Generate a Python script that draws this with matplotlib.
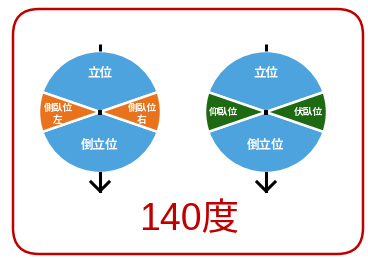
import matplotlib
matplotlib.use("Agg")
import matplotlib.pyplot as plt
from matplotlib.patches import Wedge, FancyBboxPatch, Rectangle

plt.rcParams["font.family"] = ["Noto Sans CJK JP", "DejaVu Sans"]

W, H = 368, 258

# ── data ──────────────────────────────────────────────────────────────────────
CENTERS_X = [100, 266]
CENTER_Y = 112
RADIUS = 61
SIDE_SPAN = 38                 # degrees of each side wedge
SIDE_COLORS = ["#e8731c", "#1e6a12"]
BLUE = "#4da3de"
TOP_LABEL = "立位"
BOTTOM_LABEL = "倒立位"
SIDE_LABELS = [("側臥位\n左", "側臥位\n右"), ("仰臥位", "伏臥位")]
TITLE = "140度"

fig = plt.figure(figsize=(W / 100, H / 100), dpi=100)
ax = fig.add_axes([0, 0, 1, 1])
ax.set_xlim(0, W)
ax.set_ylim(H, 0)
ax.axis("off")

box = FancyBboxPatch((13, 9), 350, 245, boxstyle="round,pad=0,rounding_size=26",
                     fc="white", ec="#c00000", lw=1.8)
ax.add_patch(box)

half = SIDE_SPAN / 2
for cx, scol, (ltxt, rtxt) in zip(CENTERS_X, SIDE_COLORS, SIDE_LABELS):
    # y axis is inverted, so angle 270 points up on screen
    ax.add_patch(Wedge((cx, CENTER_Y), RADIUS, 180 + half, 360 - half,
                       fc=BLUE, ec="white", lw=1.8))
    ax.add_patch(Wedge((cx, CENTER_Y), RADIUS, half, 180 - half,
                       fc=BLUE, ec="white", lw=1.8))
    ax.add_patch(Wedge((cx, CENTER_Y), RADIUS, 180 - half, 180 + half,
                       fc=scol, ec="white", lw=1.8))
    ax.add_patch(Wedge((cx, CENTER_Y), RADIUS, -half, half,
                       fc=scol, ec="white", lw=1.8))
    ax.add_patch(Rectangle((cx - 2, CENTER_Y - 2.5), 4, 5, fc="black"))

    # vertical axis line and arrow
    ax.plot([cx, cx], [44, CENTER_Y - RADIUS], color="black", lw=2.2,
            solid_capstyle="butt")
    ax.plot([cx, cx], [CENTER_Y + RADIUS, 191], color="black", lw=2.2)
    ax.plot([cx - 9, cx, cx + 9], [182, 191, 182], color="black", lw=2.2,
            solid_joinstyle="miter")

    ax.text(cx, 74, TOP_LABEL, color="white", fontsize=9, fontweight="bold",
            ha="center", va="center")
    ax.text(cx, 146, BOTTOM_LABEL, color="white", fontsize=9, fontweight="bold",
            ha="center", va="center")
    ly = 114 if "\n" in ltxt else 112
    ax.text(cx - 42, ly, ltxt, color="white", fontsize=7, fontweight="bold",
            ha="center", va="center", linespacing=1.15)
    ax.text(cx + 42, ly, rtxt, color="white", fontsize=7, fontweight="bold",
            ha="center", va="center", linespacing=1.15)

ax.text(189, 220, TITLE, color="#c00000", fontsize=27, ha="center", va="center",
        family=["Liberation Sans", "Noto Sans CJK JP"])

fig.savefig("out.png", dpi=100)
